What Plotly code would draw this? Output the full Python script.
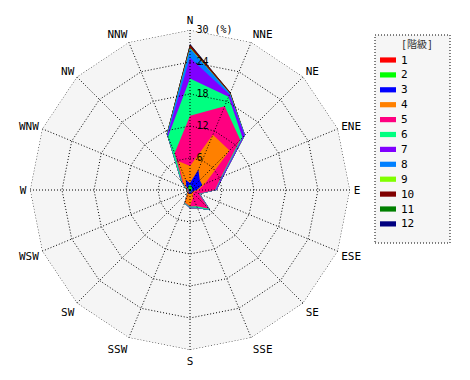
import numpy as np
import plotly.graph_objects as go

# 16 wind directions (clockwise from north)
directions = ["N", "NNE", "NE", "ENE", "E", "ESE", "SE", "SSE",
              "S", "SSW", "SW", "WSW", "W", "WNW", "NW", "NNW"]

class_labels = ["1", "2", "3", "4", "5", "6", "7", "8", "9", "10", "11", "12"]
class_colors = ["#ff0000", "#00ff00", "#0000ff", "#ff8000", "#ff0080", "#00ff80",
                "#8000ff", "#0080ff", "#80ff00", "#800000", "#008000", "#000080"]
legend_title = "[階級]"

# frequency (%) of each class per direction
cls1 = [0.2, 0.2, 0.1, 0.1, 0.1, 0.1, 0.1, 0.1, 0.1, 0.1, 0.1, 0.1, 0.1, 0.1, 0.1, 0.2]
cls2 = [0.8, 0.6, 0.4, 0.3, 0.2, 0.2, 0.2, 0.2, 0.3, 0.2, 0.2, 0.1, 0.1, 0.2, 0.3, 0.6]
cls3 = [0.3, 3.3, 2.1, 2.1, 1.0, 0.3, 0.2, 0.3, 0.4, 0.3, 0.1, 0.1, 0.1, 0.1, 0.6, 1.3]
cls4 = [3.2, 7.1, 7.9, 0.5, 0.3, 0.3, 0.3, 0.9, 2.2, 1.9, 0.2, 0.1, 0.1, 0.3, 0.7, 3.8]
cls5 = [9.4, 5.8, 2.8, 3.3, 3.1, 0.9, 4.2, 1.8, 0.1, 0.1, 0.1, 0.1, 0.1, 0.1, 0.3, 1.6]
cls6 = [7.0, 1.9, 0.6, 0.2, 0.1, 0.1, 0.3, 0.3, 0.2, 0.1, 0.1, 0.1, 0.1, 0.2, 0.3, 3.3]
cls7 = [3.9, 0.5, 0.6, 0.3, 0.2, 0.1, 0.1, 0.1, 0.1, 0.0, 0.0, 0.0, 0.0, 0.0, 0.1, 0.3]
cls8 = [1.8, 0.2, 0.1, 0.0, 0.0, 0.0, 0.0, 0.0, 0.0, 0.0, 0.0, 0.0, 0.0, 0.0, 0.0, 0.2]
cls9 = [0.1, 0.0, 0.0, 0.0, 0.0, 0.0, 0.0, 0.0, 0.0, 0.0, 0.0, 0.0, 0.0, 0.0, 0.0, 0.0]
cls10 = [0.6, 0.2, 0.0, 0.0, 0.0, 0.0, 0.0, 0.0, 0.0, 0.0, 0.0, 0.0, 0.0, 0.0, 0.0, 0.1]
cls11 = [0.0] * 16
cls12 = [0.1, 0.0, 0.0, 0.0, 0.0, 0.0, 0.0, 0.0, 0.0, 0.0, 0.0, 0.0, 0.0, 0.0, 0.0, 0.0]

radial_ticks = [6, 12, 18, 24, 30]
radial_ticktext = ["6", "12", "18", "24", "30 (%)"]

classes = [cls1, cls2, cls3, cls4, cls5, cls6, cls7, cls8, cls9, cls10, cls11, cls12]
cum = np.cumsum(np.array(classes), axis=0)

FONT = "DejaVu Sans Mono, Noto Sans CJK JP, monospace"
DOT = "1px,2px"

W, H = 470, 380
CX, CY, R30 = 190, 190, 160          # centre and radius of the 30 % ring (px)
RMAX = radial_ticks[-1]

# one leading no-break space keeps the labels just right of the north spoke
padded_ticktext = ["\u00a0" + s for s in radial_ticktext]

fig = go.Figure()
theta_closed = directions + [directions[0]]

# stacked (cumulative) class polygons, outermost first
for i in reversed(range(len(classes))):
    r = list(cum[i]) + [cum[i][0]]
    fig.add_trace(go.Scatterpolar(
        r=r, theta=theta_closed, mode="lines", fill="toself",
        fillcolor=class_colors[i], line=dict(width=0, color=class_colors[i]),
        showlegend=False, hoverinfo="skip"))

# dotted grid drawn above the fills (rings at the radial ticks, spokes per direction)
for t in radial_ticks:
    fig.add_trace(go.Scatterpolar(
        r=[t] * len(theta_closed), theta=theta_closed, mode="lines",
        line=dict(color="black", width=1, dash=DOT),
        showlegend=False, hoverinfo="skip"))
for d in directions:
    fig.add_trace(go.Scatterpolar(
        r=[0, RMAX], theta=[d, d], mode="lines",
        line=dict(color="black", width=1, dash=DOT),
        showlegend=False, hoverinfo="skip"))

# legend box (dotted frame) built from the class lists
shapes = [dict(type="rect", xref="paper", yref="paper",
               x0=375 / W, x1=450 / W, y0=1 - 243 / H, y1=1 - 35 / H,
               line=dict(color="black", width=1, dash=DOT),
               fillcolor="#f6f6f6", layer="below")]
annotations = [dict(text=legend_title, xref="paper", yref="paper",
                    x=417 / W, y=1 - 44 / H, xanchor="center", yanchor="middle",
                    showarrow=False, font=dict(size=10, family=FONT, color="#333333"))]
for k, (lab, col) in enumerate(zip(class_labels, class_colors)):
    yc = 60 + 14.9 * k
    shapes.append(dict(type="rect", xref="paper", yref="paper",
                       x0=380 / W, x1=396 / W, y0=1 - (yc + 2.6) / H, y1=1 - (yc - 2.6) / H,
                       line=dict(width=0), fillcolor=col))
    annotations.append(dict(text=lab, xref="paper", yref="paper",
                            x=398.5 / W, y=1 - yc / H, xanchor="left", yanchor="middle",
                            showarrow=False, font=dict(size=11, family=FONT, color="black")))

fig.update_layout(
    width=W, height=H,
    margin=dict(l=0, r=0, t=0, b=0),
    paper_bgcolor="white",
    showlegend=False,
    font=dict(family=FONT, size=10, color="black"),
    polar=dict(
        domain=dict(x=[(CX - R30) / W, (CX + R30) / W],
                    y=[(H - CY - R30) / H, (H - CY + R30) / H]),
        bgcolor="#f5f5f5",
        gridshape="linear",
        radialaxis=dict(range=[0, RMAX], tickmode="array", tickvals=radial_ticks,
                        ticktext=padded_ticktext, angle=90, tickangle=90,
                        showline=False, showgrid=False, ticks="",
                        layer="above traces",
                        tickfont=dict(size=10, family=FONT)),
        angularaxis=dict(type="category", categoryarray=directions,
                         rotation=90, direction="clockwise",
                         ticks="outside", ticklen=1, tickcolor="rgba(0,0,0,0)",
                         showline=False, showgrid=False,
                         tickfont=dict(size=11, family=FONT)),
    ),
    shapes=shapes,
    annotations=annotations,
)

fig.write_html("out.html", config={"displayModeBar": False},
               post_script="document.body.style.margin='0';")
